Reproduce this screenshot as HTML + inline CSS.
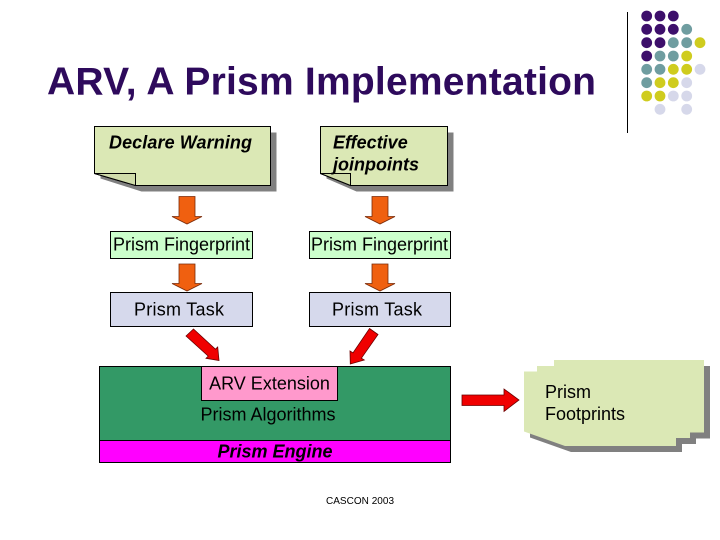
<!DOCTYPE html>
<html><head><meta charset="utf-8"><style>
html,body{margin:0;padding:0;background:#fff;width:720px;height:540px;overflow:hidden}
svg{display:block}
text{font-family:"Liberation Sans",Arial,sans-serif;fill:#000}
</style></head><body>
<svg width="720" height="540" viewBox="0 0 720 540" xmlns="http://www.w3.org/2000/svg">
<line x1="627.5" y1="12" x2="627.5" y2="133" stroke="#000" stroke-width="1"/>
<g fill="#3d0f6b">
<circle cx="646.7" cy="16" r="5.4"/><circle cx="660" cy="16" r="5.4"/><circle cx="673.3" cy="16" r="5.4"/>
<circle cx="646.7" cy="29.3" r="5.4"/><circle cx="660" cy="29.3" r="5.4"/><circle cx="673.3" cy="29.3" r="5.4"/>
<circle cx="646.7" cy="42.7" r="5.4"/><circle cx="660" cy="42.7" r="5.4"/>
<circle cx="646.7" cy="56" r="5.4"/>
</g>
<g fill="#6f9da0">
<circle cx="686.7" cy="29.3" r="5.4"/>
<circle cx="673.3" cy="42.7" r="5.4"/><circle cx="686.7" cy="42.7" r="5.4"/>
<circle cx="660" cy="56" r="5.4"/><circle cx="673.3" cy="56" r="5.4"/>
<circle cx="646.7" cy="69.3" r="5.4"/><circle cx="660" cy="69.3" r="5.4"/>
<circle cx="646.7" cy="82.7" r="5.4"/>
</g>
<g fill="#cfcc1e">
<circle cx="700" cy="42.7" r="5.4"/>
<circle cx="686.7" cy="56" r="5.4"/>
<circle cx="673.3" cy="69.3" r="5.4"/><circle cx="686.7" cy="69.3" r="5.4"/>
<circle cx="660" cy="82.7" r="5.4"/><circle cx="673.3" cy="82.7" r="5.4"/>
<circle cx="646.7" cy="96" r="5.4"/><circle cx="660" cy="96" r="5.4"/>
</g>
<g fill="#d6d8ea">
<circle cx="700" cy="69.3" r="5.4"/>
<circle cx="686.7" cy="82.7" r="5.4"/>
<circle cx="673.3" cy="96" r="5.4"/><circle cx="686.7" cy="96" r="5.4"/>
<circle cx="660" cy="109.3" r="5.4"/><circle cx="686.7" cy="109.3" r="5.4"/>
</g>
<text x="47" y="94.300" font-size="39" font-weight="bold" textLength="549" lengthAdjust="spacing" style="fill:#2e0a5c">ARV, A Prism Implementation</text>

<path d="M100.500 132.500H276.500V191.500H141.500L100.500 178.500Z" fill="#808080"/>
<path d="M94.500 126.500H270.500V185.500H135.500L94.500 173.500Z" fill="#dbe8b5" stroke="#000"/>
<path d="M94.500 173.500H135.500V185.500Z" fill="#d0dcaa" stroke="#000"/>
<text x="109" y="148.500" font-size="18" font-weight="bold" font-style="italic" textLength="143">Declare Warning</text>

<path d="M326.500 132.500H453.500V191.500H356.500L326.500 178.500Z" fill="#808080"/>
<path d="M320.500 126.500H447.500V185.500H350.500L320.500 173.500Z" fill="#dbe8b5" stroke="#000"/>
<path d="M320.500 173.500H350.500V185.500Z" fill="#d0dcaa" stroke="#000"/>
<text x="333" y="148.500" font-size="18" font-weight="bold" font-style="italic">Effective</text>
<text x="333" y="170.500" font-size="18" font-weight="bold" font-style="italic">joinpoints</text>

<g fill="#f06010" stroke="#7a2a08" stroke-width="0.800">
<path d="M179 196.500H195V216.500H202L187 224L172 216.500H179Z"/>
<path d="M372 196.500H388V216.500H395L380 224L365 216.500H372Z"/>
<path d="M179 264H195V283.500H202L187 291L172 283.500H179Z"/>
<path d="M372 264H388V283.500H395L380 291L365 283.500H372Z"/>
</g>

<rect x="110.500" y="231.500" width="142" height="27" fill="#ccffcc" stroke="#000"/>
<text x="113" y="250.500" font-size="18" textLength="137">Prism Fingerprint</text>
<rect x="309.500" y="231.500" width="141" height="27" fill="#ccffcc" stroke="#000"/>
<text x="311" y="250.500" font-size="18" textLength="137">Prism Fingerprint</text>

<rect x="110.500" y="292.500" width="142" height="34" fill="#d6d9ec" stroke="#000"/>
<text x="134" y="315.500" font-size="18" textLength="90">Prism Task</text>
<rect x="309.500" y="292.500" width="141" height="34" fill="#d6d9ec" stroke="#000"/>
<text x="332" y="315.500" font-size="18" textLength="90">Prism Task</text>

<g fill="#f00000" stroke="#6a0000" stroke-width="0.800">
<path d="M186 336L193.500 329L215.400 349.200L217.700 347L219 360.500L206 358.300L208.200 356.100Z"/>
<path d="M369.500 328.500L378 334.500L361.400 358.200L364.300 360L350.300 364L350 351L353 352.800Z"/>
<path d="M462 395H504V389L519 400L504 411.500V405.500H462Z"/>
</g>

<rect x="99.500" y="366.500" width="351" height="74" fill="#339966" stroke="#000"/>
<rect x="99.500" y="440.500" width="351" height="22" fill="#ff00ff" stroke="#000"/>
<rect x="201.500" y="366.500" width="136" height="34" fill="#ff99cc" stroke="#000"/>
<text x="269.500" y="389.500" font-size="18" text-anchor="middle">ARV Extension</text>
<text x="268" y="420.500" font-size="18" text-anchor="middle">Prism Algorithms</text>
<text x="275" y="457.500" font-size="18" font-weight="bold" font-style="italic" text-anchor="middle">Prism Engine</text>

<path d="M530 377.500H543V372H560V366H710V438.500H696V444H682V452H571L530 437.500Z" fill="#808080"/>
<path d="M524 371.500H537V366H554V360H704V432.500H690V438H676V446H565L524 431.500Z" fill="#dbe8b5"/>
<text x="545" y="398" font-size="18">Prism</text>
<text x="545" y="420" font-size="18">Footprints</text>

<text x="326" y="504" font-size="10" textLength="68">CASCON 2003</text>
</svg>
</body></html>
